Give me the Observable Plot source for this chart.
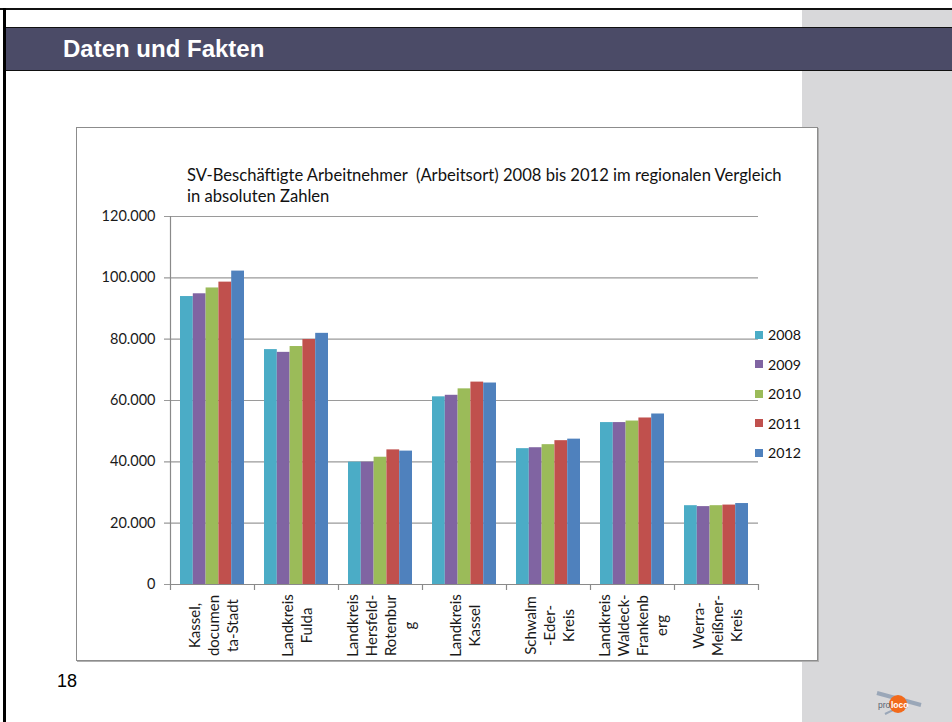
<!DOCTYPE html>
<html>
<head>
<meta charset="utf-8">
<script src="https://cdn.jsdelivr.net/npm/d3@7"></script>
<script src="https://cdn.jsdelivr.net/npm/@observablehq/plot@0.6"></script>
<style>
html,body{margin:0;padding:0;background:#fff;}
#page{position:relative;width:952px;height:722px;overflow:hidden;background:#fff;}
.topline{position:absolute;left:0;top:8px;width:952px;height:2px;background:#111;}
.leftline{position:absolute;left:3px;top:8px;width:3px;height:714px;background:#000;}
.panel{position:absolute;left:802px;top:10px;width:150px;height:712px;background:#d8d8da;}
.header{position:absolute;left:6px;top:27px;width:946px;height:42px;background:#4b4b67;border-top:1px solid #111;border-bottom:1px solid #111;}
.header span{position:absolute;left:57px;top:7px;color:#fff;font:bold 24px "Liberation Sans",Arial,sans-serif;}
.frame{position:absolute;left:76px;top:127px;width:740px;height:532px;background:#fff;border:1px solid #8c8c8c;box-shadow:1px 1px 0 #b0b0b0;}
#chart{position:absolute;left:0;top:0;}
.ctitle{position:absolute;left:187px;top:165px;font:16.6px Lato,"Open Sans",sans-serif;line-height:20.5px;color:#111;white-space:nowrap;}
#legend{position:absolute;left:755px;top:320px;font:14.2px Lato,"Open Sans",sans-serif;color:#111;}
#legend .row{height:29.5px;display:flex;align-items:center;}
#legend .sw{width:8px;height:8px;margin-right:5px;}
.pagenum{position:absolute;left:57px;top:671px;font:18px "Liberation Sans",Arial,sans-serif;color:#000;}
#logo{position:absolute;left:0;top:0;}
</style>
</head>
<body>
<div id="page">
  <div class="topline"></div>
  <div class="leftline"></div>
  <div class="panel"></div>
  <div class="header"><span>Daten und Fakten</span></div>
  <div class="frame"></div>
  <div id="chart"></div>
  <div class="ctitle">SV-Beschäftigte Arbeitnehmer&nbsp; (Arbeitsort) 2008 bis 2012 im regionalen Vergleich<br>in absoluten Zahlen</div>
  <div id="legend"></div>
  <div class="pagenum">18</div>
  <svg id="logo" width="952" height="722" style="pointer-events:none">
    <path d="M877,693 L921,705" stroke="#9aa7b8" stroke-width="4" fill="none"/>
    <path d="M885,714 Q898,707 908,707" stroke="#9aa7b8" stroke-width="2" fill="none"/>
    <circle cx="898" cy="704" r="9" fill="#f26a1b"/>
    <text x="878" y="707.5" font-family="Liberation Sans, Arial" font-size="8.5" fill="#5a6270">pro</text>
    <text x="891" y="707.5" font-family="Liberation Sans, Arial" font-size="8.5" font-weight="bold" fill="#fff">loco</text>
  </svg>
</div>
<script>
const categories = ["Kassel, documenta-Stadt", "Landkreis Fulda", "Landkreis Hersfeld-Rotenburg", "Landkreis Kassel", "Schwalm-Eder-Kreis", "Landkreis Waldeck-Frankenberg", "Werra-Meißner-Kreis"];
const tickLabels = ["Kassel,\ndocumen\nta-Stadt", "Landkreis\nFulda", "Landkreis\nHersfeld-\nRotenbur\ng", "Landkreis\nKassel", "Schwalm\n-Eder-\nKreis", "Landkreis\nWaldeck-\nFrankenb\nerg", "Werra-\nMeißner-\nKreis"];
const years = ["2008", "2009", "2010", "2011", "2012"];
const v2008 = [93900, 76600, 39900, 61200, 44300, 52800, 25700];
const v2009 = [94800, 75700, 39900, 61700, 44600, 52800, 25400];
const v2010 = [96700, 77600, 41500, 63800, 45600, 53300, 25700];
const v2011 = [98600, 79900, 43900, 66000, 46900, 54300, 25900];
const v2012 = [102200, 81900, 43500, 65700, 47400, 55600, 26400];
const colors = ["#4bacc6", "#8064a2", "#9bbb59", "#c0504d", "#4f81bd"];
const yTicks = [0, 20000, 40000, 60000, 80000, 100000, 120000];

const series = [v2008, v2009, v2010, v2011, v2012];
const rows = categories.map((c, i) => ({cat: c, label: tickLabels[i]}));
const fmt = d3.formatLocale({decimal: ",", thousands: ".", grouping: [3], currency: ["", "€"]}).format(",d");

const W = 818, H = 661, mL = 170, mR = 60, mT = 216, mB = 77;
const pad = 0.238;
const step = (W - mL - mR) / categories.length;
const bw = step * (1 - pad);
const barW = bw / years.length;
const font = "Lato, 'Open Sans', sans-serif";

const chart = Plot.plot({
  width: W, height: H,
  marginLeft: mL, marginRight: mR, marginTop: mT, marginBottom: mB,
  style: {background: "transparent", fontFamily: font, color: "#111"},
  x: {domain: categories, paddingInner: pad, paddingOuter: pad / 2, axis: null},
  y: {domain: [0, 120000], axis: null},
  marks: [
    Plot.ruleY(yTicks, {y: d => d, stroke: "#9a9a9a", strokeWidth: 1.2, insetLeft: -6}),
    ...series.map((vals, k) => Plot.barY(rows, {
      x: "cat", y: (d, i) => vals[i], fill: colors[k],
      insetLeft: k * barW, insetRight: (years.length - 1 - k) * barW
    })),
    Plot.ruleX([categories[0]], {x: d => d, dx: -step / 2, y1: 120000, y2: 0, insetBottom: -6, stroke: "#8a8a8a", strokeWidth: 1.2}),
    Plot.ruleX(categories, {x: d => d, dx: step / 2, y1: 0, y2: 0, insetBottom: -6, stroke: "#8a8a8a", strokeWidth: 1.2}),
    Plot.ruleY([0], {y: d => d, stroke: "#8a8a8a", strokeWidth: 1.2}),
    Plot.text(yTicks, {y: d => d, frameAnchor: "left", dx: -15, textAnchor: "end", text: d => fmt(d), fontSize: 14.5, fill: "#1a1a1a"}),
    Plot.text(rows, {x: "cat", frameAnchor: "bottom", dy: 41, rotate: -90, text: "label", textAnchor: "middle", lineAnchor: "middle", lineHeight: 1.27, fontSize: 15, fill: "#1a1a1a"})
  ]
});
document.getElementById("chart").appendChild(chart);

const legend = document.getElementById("legend");
years.forEach((y, k) => {
  const row = document.createElement("div");
  row.className = "row";
  row.innerHTML = `<span class="sw" style="background:${colors[k]}"></span><span>${y}</span>`;
  legend.appendChild(row);
});
</script>
</body>
</html>
